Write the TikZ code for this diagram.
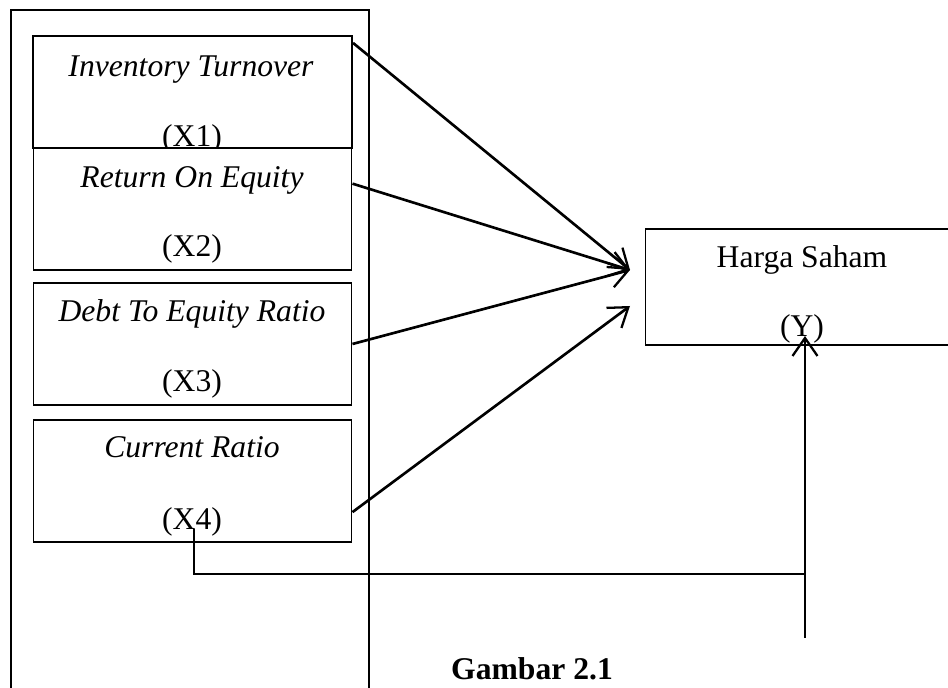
\documentclass[tikz,border=0pt]{standalone}
\usepackage{fontspec}
\setmainfont{Liberation Serif}
\usepackage{tikz}
\usetikzlibrary{arrows.meta}

\begin{document}
\begin{tikzpicture}[x=0.02cm,y=-0.02cm]

          \tikzstyle{varBox} = [draw, fill=white, line width=0.6pt, minimum width=6.38cm, minimum height=2.44cm, inner sep=0pt];
          \tikzstyle{varText} = [anchor=base, inner sep=0pt, font=\fontsize{18}{21}\selectfont];
          \tikzstyle{focusEdge} = [line width=1.5pt, -{Straight Barb[length=3.6mm,width=5mm,line width=1.3pt]}];
          \tikzstyle{thinEdge} = [line width=0.7pt];

          \useasboundingbox (0,0) rectangle (948,688);

          % outer frame, open at the bottom
          \draw[line width=0.9pt] (11,700) -- (11,10) -- (369,10) -- (369,700);

          \node[varBox, line width=1.2pt, minimum height=2.24cm] (x1) at (192.5,92) {};
          \node[varText] (x1a) at (191,77) {\itshape Inventory Turnover};
          \node[varText] (x1b) at (192,147) {(X1)};

          \node[varBox] (x2) at (192.5,209) {};
          \node[varText] (x2a) at (192,188) {\itshape Return On Equity};
          \node[varText] (x2b) at (192,257) {(X2)};

          \node[varBox] (x3) at (192.5,344) {};
          \node[varText] (x3a) at (192,322) {\itshape Debt To Equity Ratio};
          \node[varText] (x3b) at (192,392) {(X3)};

          \node[varBox] (x4) at (192.5,481) {};
          \node[varText] (x4a) at (192,458) {\itshape Current Ratio};
          \node[varText] (x4b) at (192,530) {(X4)};

          \node[varBox, minimum width=6.3cm, minimum height=2.32cm] (y) at (802.5,287) {};
          \node[varText] (ya) at (802,268) {Harga Saham};
          \node[varText] (yb) at (802,337) {(Y)};

          \node[varText] (cap) at (532,680) {\bfseries Gambar 2.1};

          \coordinate (tipA) at (630,270);
          \coordinate (tipB) at (630,306);
          \coordinate (ytip) at (805,336);
          \coordinate (ybot) at (805,638);
          \coordinate (xfoot) at (194,529);
          \coordinate (join) at (805,574);

          \draw[focusEdge] (x1.17) -- (tipA);
          \draw[focusEdge] (x2.9) -- (tipA);
          \draw[focusEdge] (x3.east) -- (tipA);
          \draw[focusEdge] (x4.-11) -- (tipB);
          \draw[thinEdge] (xfoot) |- (join);
          \draw[focusEdge] (ybot) -- (ytip);
        \end{tikzpicture}
\end{document}
